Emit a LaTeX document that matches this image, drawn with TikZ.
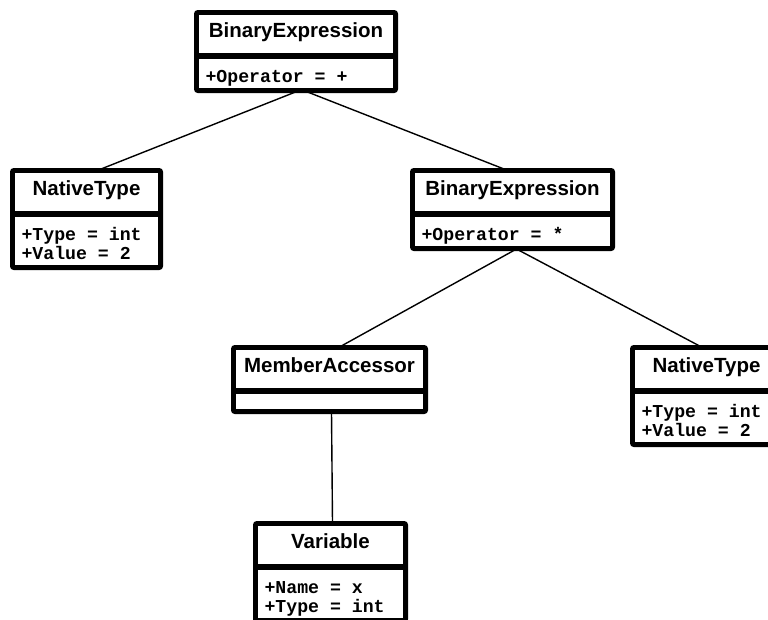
\documentclass[tikz,border=0pt]{standalone}
\usepackage{fontspec}
\setmainfont{Liberation Sans}
\newfontfamily\attrfont{Liberation Mono}
\tikzset{
  classhead/.style={draw, line width=3pt, inner xsep=0pt, inner ysep=0pt,
    anchor=north west, font=\fontsize{20.5}{22}\selectfont\bfseries},
  classbody/.style={draw, line width=3pt, inner xsep=8pt, inner ysep=0pt,
    anchor=north, align=flush left,
    font=\fontsize{18.2}{19}\selectfont\attrfont\bfseries},
  outline/.style={line width=4pt, rounded corners=2pt},
  link/.style={line width=1.4pt},
}
% struts fixing the baseline positions inside the compartments
\newcommand\headstrut{\rule[-17pt]{0pt}{41pt}}
\newcommand\firststrut{\rule{0pt}{25pt}}
\newcommand\laststrut{\rule[-7pt]{0pt}{7pt}}
\begin{document}
\begin{tikzpicture}[x=1pt, y=-1pt]
\useasboundingbox (0,0) rectangle (768,619);
\clip (0,0) rectangle (768,619);

% root: BinaryExpression (+)
\node[classhead, minimum width=197pt] (h1) at (196,12) {\headstrut BinaryExpression};
\node[classbody, text width=181pt] (b1) at (h1.south) {\firststrut+Operator = +\laststrut};

% left operand: NativeType
\node[classhead, minimum width=146pt] (h2) at (12,170) {\headstrut NativeType};
\node[classbody, text width=130pt] (b2) at (h2.south) {\firststrut+Type = int\\+Value = 2\laststrut};

% right operand: BinaryExpression (*)
\node[classhead, minimum width=198pt] (h3) at (412,170) {\headstrut BinaryExpression};
\node[classbody, text width=182pt] (b3) at (h3.south) {\firststrut+Operator = *\laststrut};

% MemberAccessor
\node[classhead, minimum width=190pt] (h4) at (233,347) {\headstrut MemberAccessor};
\node[classbody, text width=174pt, minimum height=18pt] (b4) at (h4.south) {};

% NativeType (right)
\node[classhead, minimum width=146pt] (h5) at (632,347) {\headstrut NativeType};
\node[classbody, text width=130pt] (b5) at (h5.south) {\firststrut+Type = int\\+Value = 2\laststrut};

% Variable
\node[classhead, minimum width=148pt] (h6) at (255,523) {\headstrut Variable};
\node[classbody, text width=132pt] (b6) at (h6.south) {\firststrut+Name = x\\+Type = int\laststrut};

% heavy outer frames
\foreach \n in {1,...,6}
  \draw[outline] (h\n.north west) rectangle (b\n.south east);

% tree edges
\draw[link] ([xshift=2pt]b1.south) -- ([xshift=12pt]h2.north);
\draw[link] ([xshift=9pt]b1.south) -- ([xshift=-6pt]h3.north);
\draw[link] ([xshift=4pt]b3.south) -- ([xshift=10pt]h4.north);
\draw[link] ([xshift=4pt]b3.south) -- ([xshift=-5pt]h5.north);
\draw[link] ([xshift=2pt]b4.south) -- ([xshift=2pt]h6.north);
\end{tikzpicture}
\end{document}
